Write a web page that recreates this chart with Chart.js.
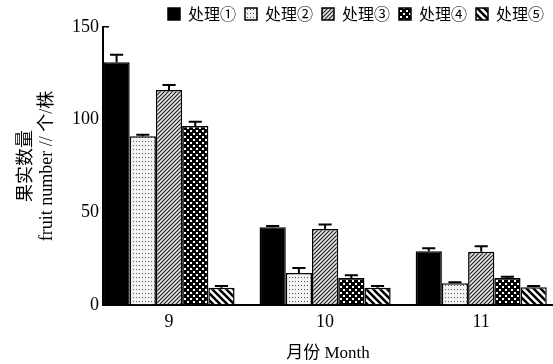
<!DOCTYPE html>
<html>
<head>
<meta charset="utf-8">
<script src="https://cdn.jsdelivr.net/npm/chart.js@4.4.1/dist/chart.umd.min.js"></script>
<style>
  html, body { margin: 0; padding: 0; background: #fff; }
  canvas { display: block; }
</style>
</head>
<body>
<canvas id="chart" width="553" height="364"></canvas>
<script>
// Months on the x axis and the five treatments
const months = [9, 10, 11];
const treatments = ['处理①', '处理②', '处理③', '处理④', '处理⑤'];
const yTicks = [0, 50, 100, 150];

// Fruit number per plant (mean) and the error bar above it
const t1 = [131, 42, 29];
const t1Err = [4, 0.6, 1.6];
const t2 = [91, 17.3, 11.8];
const t2Err = [0.8, 2.6, 0.5];
const t3 = [116, 41, 28.7];
const t3Err = [2.7, 2.4, 3];
const t4 = [96.6, 14.6, 14.6];
const t4Err = [2.3, 1.5, 0.6];
const t5 = [9.3, 9.3, 9.6];
const t5Err = [1, 1, 0.6];

// Small canvas tiles used as fills for the bars
function makePattern(kind) {
  const c = document.createElement('canvas');
  const g = c.getContext('2d');
  if (kind === 'dots') {
    c.width = 3; c.height = 4;
    g.fillStyle = '#f2f2f2';
    g.fillRect(0, 0, 3, 4);
    g.fillStyle = '#555';
    g.fillRect(1, 1, 1, 1);
  } else if (kind === 'fine') {
    c.width = 4; c.height = 4;
    g.fillStyle = '#e6e6e6';
    g.fillRect(0, 0, 4, 4);
    g.strokeStyle = '#222';
    g.lineWidth = 1.2;
    g.beginPath();
    g.moveTo(-1, 5); g.lineTo(5, -1);
    g.moveTo(-1, 1); g.lineTo(1, -1);
    g.moveTo(3, 5); g.lineTo(5, 3);
    g.stroke();
  } else if (kind === 'checker') {
    c.width = 6; c.height = 6;
    g.fillStyle = '#000';
    g.fillRect(0, 0, 6, 6);
    g.fillStyle = '#fff';
    g.fillRect(1, 1, 2, 2);
    g.fillRect(4, 4, 2, 2);
  } else {
    c.width = 7; c.height = 7;
    g.fillStyle = '#fff';
    g.fillRect(0, 0, 7, 7);
    g.strokeStyle = '#000';
    g.lineWidth = 2.6;
    g.beginPath();
    g.moveTo(-1, -1); g.lineTo(8, 8);
    g.moveTo(-1, 6); g.lineTo(1, 8);
    g.moveTo(6, -1); g.lineTo(8, 1);
    g.stroke();
  }
  return g.createPattern(c, 'repeat');
}

const fills = ['#000', makePattern('dots'), makePattern('fine'), makePattern('checker'), makePattern('wide')];
const values = [t1, t2, t3, t4, t5];
const errors = [t1Err, t2Err, t3Err, t4Err, t5Err];

const datasets = treatments.map((name, i) => ({
  label: name,
  data: values[i],
  errors: errors[i],
  backgroundColor: fills[i],
  borderColor: '#000',
  borderWidth: 1.5
}));

// upward error bars with a cap
const errorBars = {
  id: 'errorBars',
  afterDatasetsDraw(chart) {
    const ctx = chart.ctx;
    const yScale = chart.scales.y;
    ctx.save();
    ctx.strokeStyle = '#000';
    ctx.lineWidth = 2;
    chart.data.datasets.forEach((ds, i) => {
      const meta = chart.getDatasetMeta(i);
      meta.data.forEach((bar, j) => {
        const top = yScale.getPixelForValue(ds.data[j] + ds.errors[j]);
        const half = bar.width * 0.25;
        ctx.beginPath();
        ctx.moveTo(bar.x, bar.y);
        ctx.lineTo(bar.x, top);
        ctx.moveTo(bar.x - half, top);
        ctx.lineTo(bar.x + half, top);
        ctx.stroke();
      });
    });
    ctx.restore();
  }
};

// lets the legend sit a little lower, over the top of the plot
const legendShift = {
  id: 'legendShift',
  afterLayout(chart) {
    chart.legend.top += 5;
    chart.legend.bottom += 5;
  }
};

const serif = "'Liberation Serif', 'Noto Sans CJK SC', serif";

new Chart(document.getElementById('chart'), {
  type: 'bar',
  data: { labels: months, datasets },
  plugins: [errorBars, legendShift],
  options: {
    responsive: false,
    animation: false,
    layout: { padding: { top: -8, left: 0, right: 0, bottom: 0 } },
    categoryPercentage: 0.84,
    barPercentage: 1,
    plugins: {
      tooltip: { enabled: false },
      legend: {
        position: 'top',
        align: 'end',
        labels: {
          boxWidth: 12,
          boxHeight: 12,
          padding: 9,
          color: '#000',
          font: { family: "'Noto Sans CJK SC', sans-serif", size: 16 }
        }
      }
    },
    scales: {
      x: {
        type: 'linear',
        min: 8.577,
        max: 11.46,
        offset: false,
        afterBuildTicks: s => { s.ticks = months.map(v => ({ value: v })); },
        afterFit: s => { s.height = 59; },
        grid: { drawOnChartArea: false, drawTicks: false },
        border: { display: true, color: '#000', width: 2 },
        ticks: {
          padding: 6,
          color: '#000',
          font: { family: serif, size: 18 },
          callback: v => String(v)
        },
        title: {
          display: true,
          text: '月份 Month',
          color: '#000',
          padding: { top: 0, bottom: 0 },
          font: { family: serif, size: 17 }
        }
      },
      y: {
        min: 0,
        max: 150,
        afterBuildTicks: s => { s.ticks = yTicks.map(v => ({ value: v })); },
        afterFit: s => { s.width = 103; },
        grid: { drawOnChartArea: false, drawTicks: true, tickLength: -6, color: '#000', lineWidth: 1.5 },
        border: { display: true, color: '#000', width: 2 },
        ticks: {
          padding: 10,
          color: '#000',
          font: { family: serif, size: 18 }
        },
        title: {
          display: true,
          text: ['果实数量', 'fruit number // 个/株'],
          color: '#000',
          padding: { top: 15, bottom: 0 },
          font: { family: serif, size: 18 }
        }
      }
    }
  }
});
</script>
</body>
</html>
